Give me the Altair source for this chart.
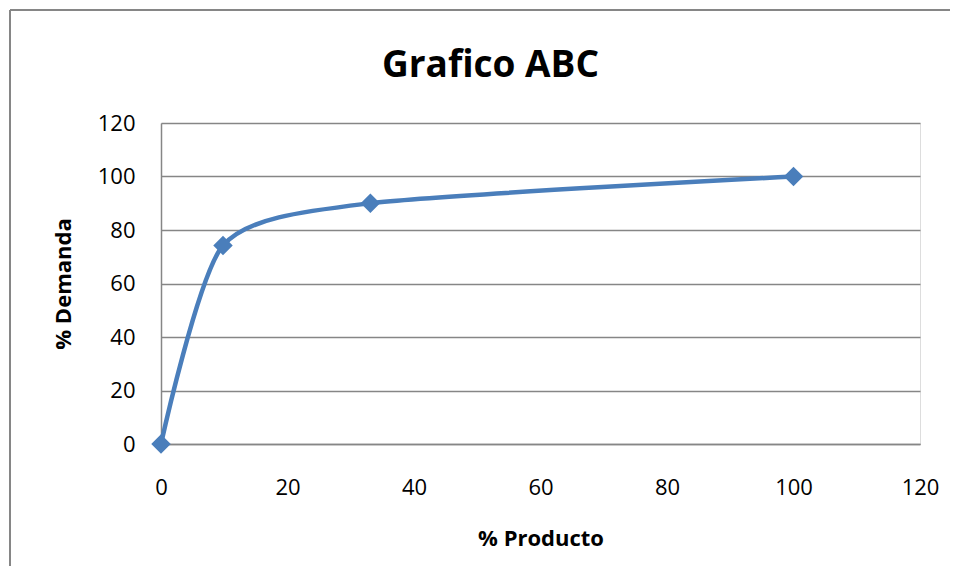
import altair as alt
import pandas as pd

producto = [0, 9.8, 33.1, 100]
demanda = [0, 74.2, 90.0, 100]
tick_values = [0, 20, 40, 60, 80, 100, 120]
title_text = "Grafico ABC"
x_title = "% Producto"
y_title = "% Demanda"

df = pd.DataFrame({"producto": producto, "demanda": demanda})
one = pd.DataFrame({"t": [title_text]})

FONT = "Open Sans"
BLUE = "#4A7EBB"
GRID = "#868686"

x = alt.X("producto:Q", title=x_title,
          scale=alt.Scale(domain=[0, 120], nice=False),
          axis=alt.Axis(values=tick_values, grid=False, ticks=False, tickSize=0,
                        labelFlush=False, labelOverlap=False,
                        labelPadding=33, titlePadding=30, domainColor=GRID,
                        domainWidth=1.5, labelFontSize=22, titleFontSize=22,
                        labelFont=FONT, titleFont=FONT, titleFontWeight="bold",
                        labelColor="black", titleColor="black"))
y = alt.Y("demanda:Q", title=y_title,
          scale=alt.Scale(domain=[0, 120], nice=False),
          axis=alt.Axis(values=tick_values, grid=True, gridColor=GRID, gridWidth=1.5,
                        gridOpacity=1, ticks=False, tickSize=0, labelPadding=26,
                        labelFlush=False, labelOverlap=False,
                        titlePadding=22, domainColor=GRID, domainWidth=1.5,
                        labelFontSize=22, titleFontSize=22, labelFont=FONT,
                        titleFont=FONT, titleFontWeight="bold",
                        labelColor="black", titleColor="black"))

line = alt.Chart(df).mark_line(color=BLUE, strokeWidth=4.5,
                               interpolate="cardinal", tension=0.3).encode(x=x, y=y)
points = alt.Chart(df).mark_point(shape="diamond", filled=True, color=BLUE,
                                  size=380, opacity=1).encode(x="producto:Q", y="demanda:Q")

title = alt.Chart(one).mark_text(font=FONT, fontSize=37, fontWeight="bold",
                                 color="black", align="center",
                                 baseline="alphabetic").encode(
    text="t:N", x=alt.value(329.5), y=alt.value(-46.3))

frame_left = alt.Chart(one).mark_rule(color=GRID, strokeWidth=2).encode(
    x=alt.value(-151), y=alt.value(-113), y2=alt.value(700))
frame_top = alt.Chart(one).mark_rule(color=GRID, strokeWidth=2).encode(
    x=alt.value(-151), x2=alt.value(900), y=alt.value(-113))

chart = alt.layer(frame_left, frame_top, line, points, title).properties(
    width=759, height=321,
    autosize=alt.AutoSizeParams(type="none"),
    padding={"left": 153, "top": 115, "right": 30, "bottom": 122},
).configure_view(stroke=None).configure(background="white")

chart.save("out.html", embed_options={"renderer": "svg", "actions": False})
